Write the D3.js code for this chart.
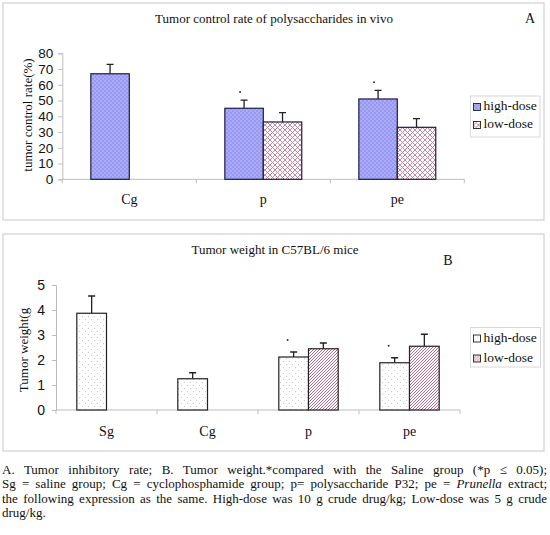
<!DOCTYPE html>
<html>
<head>
<meta charset="utf-8">
<script src="https://cdn.jsdelivr.net/npm/d3@7"></script>
<style>
  html, body { margin: 0; padding: 0; background: #fff; }
  svg { display: block; }
</style>
</head>
<body>
<div id="chart"></div>
<script>
// Panel A: tumor control rate (%)
var catsA = ['Cg', 'p', 'pe'];
var highA = [67, 45.1, 51];
var highErrA = [6, 5.2, 5.5];
var lowA = [null, 36.4, 33];
var lowErrA = [null, 5.9, 5.5];
var sigA = [false, true, true];
var ticksA = [0, 10, 20, 30, 40, 50, 60, 70, 80];

// Panel B: tumor weight (g)
var catsB = ['Sg', 'Cg', 'p', 'pe'];
var highB = [3.87, 1.25, 2.12, 1.89];
var highErrB = [0.69, 0.24, 0.2, 0.2];
var lowB = [null, null, 2.45, 2.55];
var lowErrB = [null, null, 0.23, 0.48];
var sigB = [false, false, true, true];
var ticksB = [0, 1, 2, 3, 4, 5];

var seriesNames = ['high-dose', 'low-dose'];

var captionLines = [
  'A. Tumor inhibitory rate; B. Tumor weight.*compared with the Saline group (*p \u2264 0.05);',
  'Sg = saline group; Cg = cyclophosphamide group; p= polysaccharide P32; pe = *Prunella* extract;',
  'the following expression as the same. High-dose was 10 g crude drug/kg; Low-dose was 5 g crude',
  'drug/kg.'
];

var SERIF = '"Liberation Serif", "Times New Roman", serif';
var SANS = '"Liberation Sans", Arial, sans-serif';
var AXIS = '#bdbdbd';

var W = 550, H = 535;
var svg = d3.select('#chart').append('svg').attr('width', W).attr('height', H);

// fill patterns
var defs = svg.append('defs');
var pa = defs.append('pattern').attr('id', 'aHigh').attr('patternUnits', 'userSpaceOnUse')
  .attr('width', 4).attr('height', 4);
pa.append('rect').attr('width', 4).attr('height', 4).attr('fill', '#9797f4');
pa.append('circle').attr('cx', 1).attr('cy', 1).attr('r', 0.7).attr('fill', '#fff').attr('opacity', 0.55);
pa.append('circle').attr('cx', 3).attr('cy', 3).attr('r', 0.7).attr('fill', '#fff').attr('opacity', 0.55);

var pl = defs.append('pattern').attr('id', 'aLow').attr('patternUnits', 'userSpaceOnUse')
  .attr('width', 5).attr('height', 5);
pl.append('rect').attr('width', 5).attr('height', 5).attr('fill', '#fff');
pl.append('path').attr('d', 'M0,0 L5,5 M5,0 L0,5').attr('stroke', '#c27c96').attr('stroke-width', 0.9);

var pb = defs.append('pattern').attr('id', 'bHigh').attr('patternUnits', 'userSpaceOnUse')
  .attr('width', 6).attr('height', 6);
pb.append('rect').attr('width', 6).attr('height', 6).attr('fill', '#fff');
pb.append('circle').attr('cx', 1.5).attr('cy', 1.5).attr('r', 0.6).attr('fill', '#c4c4c4');
pb.append('circle').attr('cx', 4.5).attr('cy', 4.5).attr('r', 0.6).attr('fill', '#c4c4c4');

var ph = defs.append('pattern').attr('id', 'bLow').attr('patternUnits', 'userSpaceOnUse')
  .attr('width', 3).attr('height', 3);
ph.append('rect').attr('width', 3).attr('height', 3).attr('fill', '#fff');
ph.append('path').attr('d', 'M-1,1 L1,-1 M0,3 L3,0 M2,4 L4,2').attr('stroke', '#a8507e').attr('stroke-width', 0.85);

function drawPanel(cfg) {
  var g = svg.append('g');

  g.append('rect').attr('x', cfg.box[0]).attr('y', cfg.box[1])
    .attr('width', cfg.box[2]).attr('height', cfg.box[3])
    .attr('fill', '#fff').attr('stroke', '#d0d0d0').attr('stroke-width', 1.2);

  var x = d3.scaleBand().domain(cfg.cats).range([cfg.left, cfg.right]).padding(0);
  var bw = x.bandwidth() * cfg.barFrac;
  var xs = d3.scaleBand().domain(['high', 'low']).range([-bw, bw]);
  var y = d3.scaleLinear().domain([0, cfg.ticks[cfg.ticks.length - 1]]).range([cfg.bottom, cfg.top]);

  // y axis
  var ya = g.append('g').attr('transform', 'translate(' + cfg.left + ',0)')
    .call(d3.axisLeft(y).tickValues(cfg.ticks).tickSize(4).tickPadding(cfg.tickPad).tickFormat(d3.format('d')));
  ya.select('.domain').attr('stroke', AXIS);
  ya.selectAll('.tick line').attr('stroke', AXIS);
  ya.selectAll('.tick text').attr('fill', '#111').style('font-family', SANS).style('font-size', cfg.tickFont + 'px');

  // x axis line with ticks at category boundaries
  g.append('line').attr('x1', cfg.left).attr('x2', cfg.right)
    .attr('y1', cfg.bottom).attr('y2', cfg.bottom).attr('stroke', AXIS);
  g.selectAll('.xtick').data(d3.range(cfg.cats.length + 1)).join('line')
    .attr('x1', function (i) { return cfg.left + i * x.step(); })
    .attr('x2', function (i) { return cfg.left + i * x.step(); })
    .attr('y1', cfg.bottom).attr('y2', cfg.bottom + 4).attr('stroke', AXIS);

  g.selectAll('.xlab').data(cfg.cats).join('text')
    .attr('x', function (d) { return x(d) + x.bandwidth() / 2; })
    .attr('y', cfg.catY).attr('text-anchor', 'middle').attr('dominant-baseline', 'middle')
    .style('font-family', SERIF).style('font-size', '14px').attr('fill', '#111').text(function (d) { return d; });

  var rows = [];
  cfg.cats.forEach(function (c, i) {
    if (cfg.high[i] != null) rows.push({ cat: c, s: 'high', v: cfg.high[i], e: cfg.highErr[i], sig: cfg.sig[i] });
    if (cfg.low[i] != null) rows.push({ cat: c, s: 'low', v: cfg.low[i], e: cfg.lowErr[i], sig: false });
  });
  var bx = function (d) { return x(d.cat) + x.bandwidth() / 2 + xs(d.s); };

  // error bars (upper only)
  g.selectAll('.err').data(rows).join('path')
    .attr('d', function (d) {
      var cx = bx(d) + bw / 2, t = y(d.v + d.e);
      return 'M' + cx + ',' + y(d.v) + 'V' + t + 'M' + (cx - 3.5) + ',' + t + 'H' + (cx + 3.5);
    })
    .attr('stroke', '#222').attr('stroke-width', 1.3).attr('fill', 'none');

  g.selectAll('.bar').data(rows).join('rect')
    .attr('x', bx).attr('width', bw)
    .attr('y', function (d) { return y(d.v); })
    .attr('height', function (d) { return y(0) - y(d.v); })
    .attr('fill', function (d) { return 'url(#' + cfg.fills[d.s] + ')'; })
    .attr('stroke', cfg.barStroke).attr('stroke-width', 1.2);

  // significance marks
  g.selectAll('.sig').data(rows.filter(function (d) { return d.sig; })).join('circle')
    .attr('cx', function (d) { return bx(d) + bw / 2 - cfg.sigDx; })
    .attr('cy', function (d) { return y(d.v + d.e) - cfg.sigDy; })
    .attr('r', 1).attr('fill', '#333');

  // titles
  g.append('text').attr('x', cfg.titleX).attr('y', cfg.titleY).attr('text-anchor', 'middle')
    .attr('dominant-baseline', 'middle').style('font-family', SERIF).style('font-size', '13px')
    .attr('fill', '#111').text(cfg.title);
  g.append('text').attr('x', cfg.letter[0]).attr('y', cfg.letter[1]).attr('text-anchor', 'middle')
    .attr('dominant-baseline', 'middle').style('font-family', SERIF).style('font-size', '14px')
    .attr('fill', '#111').text(cfg.letter[2]);
  g.append('text').attr('transform', 'translate(' + cfg.yTitle[0] + ',' + cfg.yTitle[1] + ') rotate(-90)')
    .attr('text-anchor', 'middle').attr('dominant-baseline', 'middle')
    .style('font-family', SERIF).style('font-size', '13px').attr('fill', '#111').text(cfg.yLabel);

  // legend
  var lg = g.append('g');
  lg.append('rect').attr('x', cfg.legend[0]).attr('y', cfg.legend[1])
    .attr('width', cfg.legend[2]).attr('height', cfg.legend[3])
    .attr('fill', '#fff').attr('stroke', '#d8d8d8');
  var it = lg.selectAll('.li').data(['high', 'low']).join('g')
    .attr('transform', function (d, i) {
      return 'translate(' + (cfg.legend[0] + 3) + ',' + (cfg.legend[1] + cfg.legendY0 + i * cfg.legendDy) + ')';
    });
  it.append('rect').attr('x', 0).attr('y', -3.5).attr('width', 7).attr('height', 7)
    .attr('fill', function (d) { return 'url(#' + cfg.fills[d] + ')'; })
    .attr('stroke', '#222').attr('stroke-width', 0.9);
  it.append('text').attr('x', 10).attr('y', 0).attr('dominant-baseline', 'middle')
    .style('font-family', SERIF).style('font-size', '13.5px').attr('fill', '#111')
    .text(function (d, i) { return seriesNames[i]; });
}

drawPanel({
  box: [3, 3, 541, 217], cats: catsA, high: highA, highErr: highErrA, low: lowA, lowErr: lowErrA,
  sig: sigA, ticks: ticksA, left: 62.3, right: 464.3, top: 53.3, bottom: 179.3, barFrac: 0.287,
  tickPad: 5, tickFont: 13.5, catY: 200.5, fills: { high: 'aHigh', low: 'aLow' }, barStroke: '#1c1c44',
  sigDx: 4, sigDy: 8, title: 'Tumor control rate of polysaccharides in vivo', titleX: 274, titleY: 20,
  letter: [530, 20, 'A'], yTitle: [29, 115], yLabel: 'tumor control rate(%)',
  legend: [470.5, 96, 69.5, 41], legendY0: 11, legendDy: 18
});

drawPanel({
  box: [3, 234, 541, 217], cats: catsB, high: highB, highErr: highErrB, low: lowB, lowErr: lowErrB,
  sig: sigB, ticks: ticksB, left: 56, right: 460, top: 285, bottom: 410, barFrac: 0.294,
  tickPad: 7, tickFont: 14, catY: 433, fills: { high: 'bHigh', low: 'bLow' }, barStroke: '#222',
  sigDx: 6, sigDy: 12, title: 'Tumor weight in C57BL/6 mice', titleX: 275, titleY: 251,
  letter: [448, 262, 'B'], yTitle: [25, 350], yLabel: 'Tumor weight(g',
  legend: [470.5, 327.5, 70, 39.5], legendY0: 11, legendDy: 20
});

// caption, justified line by line
var capLeft = 2, capRight = 547, capY0 = 471, capDy = 14.3;
captionLines.forEach(function (line, i) {
  var t = svg.append('text').attr('x', capLeft).attr('y', capY0 + i * capDy)
    .attr('dominant-baseline', 'middle').style('font-family', SERIF).style('font-size', '13px')
    .attr('fill', '#111');
  line.split('*Prunella*').forEach(function (part, k) {
    if (k > 0) t.append('tspan').style('font-style', 'italic').text('Prunella');
    t.append('tspan').text(part);
  });
  if (i < captionLines.length - 1) {
    var gaps = line.split(' ').length - 1;
    var extra = (capRight - capLeft) - t.node().getComputedTextLength();
    t.attr('word-spacing', extra / gaps);
  }
});
</script>
</body>
</html>
